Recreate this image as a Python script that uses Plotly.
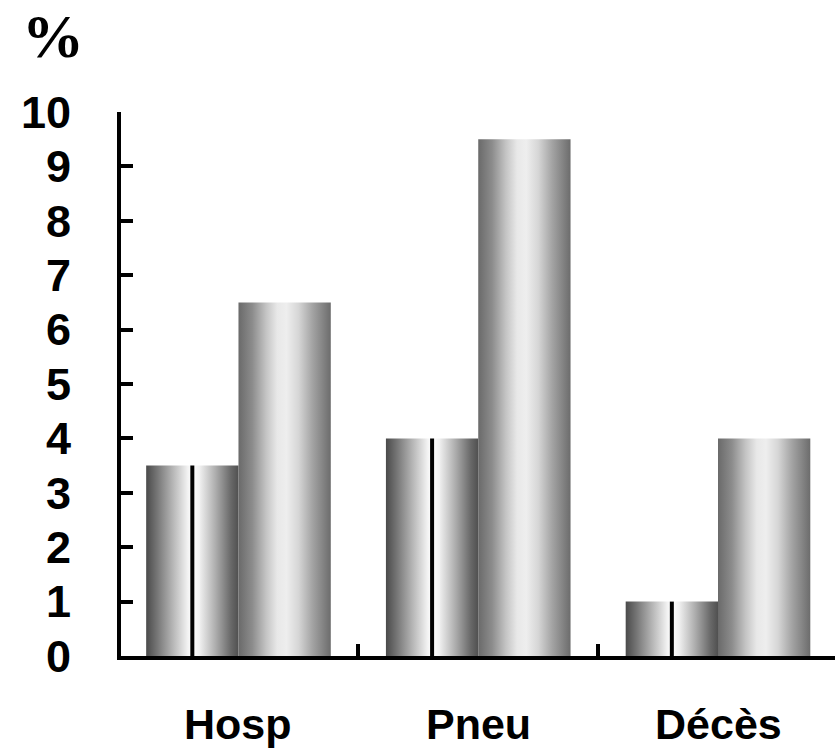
import plotly.graph_objects as go

categories = ["Hosp", "Pneu", "Décès"]
series_a = [3.5, 4.0, 1.0]   # first bar in each group
series_b = [6.5, 9.5, 4.0]   # second bar in each group
y_ticks = [0, 1, 2, 3, 4, 5, 6, 7, 8, 9, 10]

BAR_W = 0.385
scale_a = [[0, '#4a4a4a'], [0.12, '#767676'], [0.3, '#bababa'], [0.45, '#f2f2f2'],
           [0.5, '#ffffff'], [0.58, '#f0f0f0'], [0.75, '#aeaeae'], [0.92, '#686868'], [1, '#505050']]
scale_b = [[0, '#6a6a6a'], [0.15, '#8c8c8c'], [0.3, '#c4c4c4'], [0.42, '#e8e8e8'],
           [0.52, '#eeeeee'], [0.65, '#d6d6d6'], [0.8, '#a4a4a4'], [1, '#6c6c6c']]

fig = go.Figure()

def add_bar(x0, x1, v, cs):
    fig.add_trace(go.Scatter(
        x=[x0, x0, x1, x1, x0], y=[0, v, v, 0, 0],
        mode='lines', fill='toself', line=dict(width=0, color='rgba(0,0,0,0)'),
        fillgradient=dict(type='horizontal', colorscale=cs),
        hoverinfo='skip', showlegend=False))

for i, cat in enumerate(categories):
    add_bar(i - BAR_W, i, series_a[i], scale_a)
    add_bar(i, i + BAR_W, series_b[i], scale_b)

for i, cat in enumerate(categories):
    xc = i - BAR_W / 2
    fig.add_trace(go.Scatter(x=[xc, xc], y=[0, series_a[i]], mode='lines',
                             line=dict(color='black', width=4),
                             hoverinfo='skip', showlegend=False))

for i, cat in enumerate(categories):
    fig.add_annotation(x=i, y=0, xref='x', yref='paper', text=cat, showarrow=False,
                       yanchor='middle', yshift=-68,
                       font=dict(family='Liberation Sans', size=43, color='black', weight='bold'))

fig.add_annotation(x=0, y=1, xref='paper', yref='paper', text='%', showarrow=False,
                   xanchor='center', yanchor='middle', xshift=-68, yshift=76,
                   font=dict(family='Liberation Serif', size=62, color='black', weight='bold'))

fig.update_layout(
    width=835, height=752,
    margin=dict(l=121, r=0, t=112, b=96, autoexpand=False),
    paper_bgcolor='white', plot_bgcolor='white',
    hovermode=False,
    xaxis=dict(range=[-0.49, 2.488], showgrid=False, zeroline=False, automargin=False,
               showline=True, linecolor='black', linewidth=4,
               tickmode='array', tickvals=[0.5, 1.5], ticktext=['', ''],
               ticks='inside', ticklen=12, tickwidth=4, tickcolor='black'),
    yaxis=dict(range=[0, 10], showgrid=False, zeroline=False, automargin=False,
               showline=True, linecolor='black', linewidth=4,
               tickmode='array', tickvals=y_ticks, ticktext=[str(t) for t in y_ticks],
               ticks='inside', ticklen=12, tickwidth=4, tickcolor='black',
               ticklabelstandoff=37,
               tickfont=dict(family='Liberation Sans', size=45, color='black', weight='bold')),
)

fig.write_html("out.html", config={'displayModeBar': False},
               post_script="document.body.style.margin='0';document.body.style.overflow='hidden';")
